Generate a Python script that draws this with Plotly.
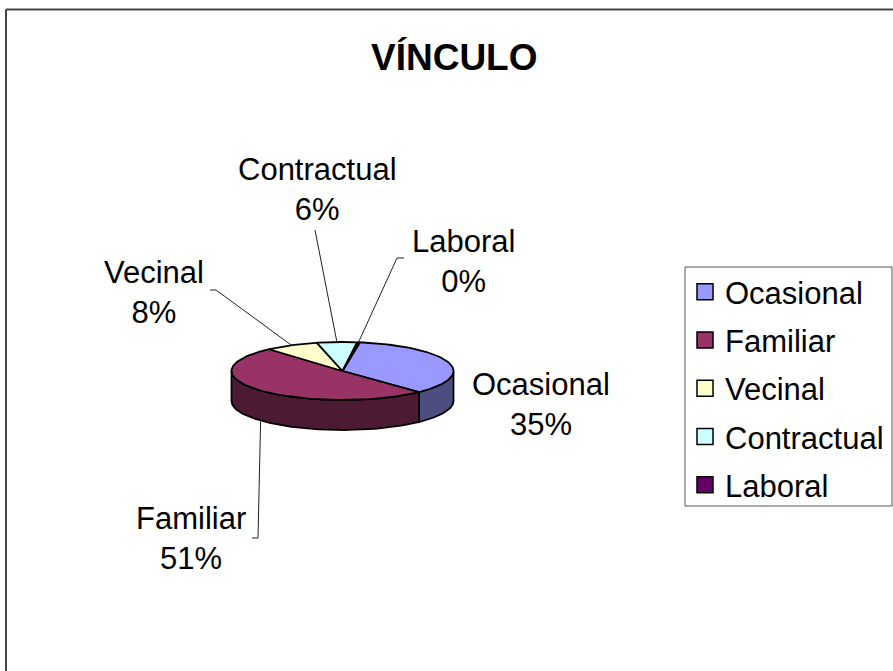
import numpy as np
import plotly.graph_objects as go

categories = ["Ocasional", "Familiar", "Vecinal", "Contractual", "Laboral"]
values = [35.4, 50.6, 7.8, 5.8, 0.4]
top_colors = ["#9999FF", "#993366", "#FFFFCC", "#CCFFFF", "#660066"]
wall_colors = ["#4D4D80", "#4D1A33", "#808066", "#668080", "#330033"]
label_centers = [(541, 404), (191, 538), (154, 292), (317, 189), (463, 261)]
leader_elbows = [None, [(252, 538), (258, 538)], [(210, 290), (216, 290)], [(315, 230)], [(404, 258), (397, 258)]]

W, H = 893, 671
CX, CY, RX, RY, DEPTH = 342.5, 371, 111, 29, 30
START = 9.0
FONT = "Liberation Sans, Arial, sans-serif"


def px(deg):
    return CX + RX * np.sin(np.radians(deg))


def py(deg):
    return CY - RY * np.cos(np.radians(deg))


total = sum(values)
edges = START + np.cumsum([0] + values) / total * 360
fig = go.Figure()

# side walls (only the front half of the rim, 90..270 degrees clockwise from the top)
for i in range(len(values)):
    a, b = max(edges[i], 90), min(edges[i + 1], 270)
    if b <= a:
        continue
    t = np.linspace(a, b, 80)
    xs = np.concatenate([px(t), px(t[::-1])])
    ys = np.concatenate([py(t), py(t[::-1]) + DEPTH])
    fig.add_trace(go.Scatter(x=np.append(xs, xs[0]), y=np.append(ys, ys[0]), mode="lines", fill="toself",
                             fillcolor=wall_colors[i], line=dict(color="black", width=1.8),
                             showlegend=False, hoverinfo="skip"))

# top faces
for i in range(len(values)):
    t = np.linspace(edges[i], edges[i + 1], 80)
    xs = np.concatenate([[CX], px(t), [CX]])
    ys = np.concatenate([[CY], py(t), [CY]])
    fig.add_trace(go.Scatter(x=xs, y=ys, mode="lines", fill="toself", fillcolor=top_colors[i],
                             line=dict(color="black", width=1.8), showlegend=False,
                             hovertemplate=f"{categories[i]}<extra></extra>"))

# leader lines, anchored on the rim at each slice's mid angle
for i, elbow in enumerate(leader_elbows):
    if elbow is None:
        continue
    mid = (edges[i] + edges[i + 1]) / 2
    wall = DEPTH if 90 < (mid % 360) < 270 else 0
    pts = elbow + [(float(px(mid)), float(py(mid)) + wall)]
    fig.add_trace(go.Scatter(x=[p[0] for p in pts], y=[p[1] for p in pts], mode="lines",
                             line=dict(color="#222222", width=1), showlegend=False, hoverinfo="skip"))

# legend entries
for i, name in enumerate(categories):
    fig.add_trace(go.Scatter(x=[None], y=[None], mode="markers", name=name, legendgroup=name,
                             marker=dict(symbol="square", size=16, color=top_colors[i],
                                         line=dict(color="black", width=1.5))))

annotations = [dict(x=454, y=57, text="<b>VÍNCULO</b>", showarrow=False, xref="x", yref="y",
                    font=dict(family=FONT, size=37, color="black"))]
for i, name in enumerate(categories):
    pct = round(values[i] / total * 100)
    annotations.append(dict(x=label_centers[i][0], y=label_centers[i][1], text=f"{name}<br>{pct}%",
                            showarrow=False, xref="x", yref="y", align="center",
                            font=dict(family=FONT, size=31, color="black")))

fig.update_layout(
    width=W, height=H, margin=dict(l=0, r=0, t=0, b=0), autosize=False,
    paper_bgcolor="white", plot_bgcolor="white", annotations=annotations,
    xaxis=dict(range=[0, W], visible=False, fixedrange=True),
    yaxis=dict(range=[H, 0], visible=False, fixedrange=True),
    legend=dict(x=685 / W, y=1 - 265 / H, xanchor="left", yanchor="top",
                bgcolor="rgba(0,0,0,0)", borderwidth=0,
                font=dict(family=FONT, size=31, color="black"),
                tracegroupgap=5, itemwidth=30, itemclick=False, itemdoubleclick=False),
    shapes=[
        dict(type="line", xref="x", yref="y", x0=6, y0=9.5, x1=W, y1=9.5, line=dict(color="#444444", width=2)),
        dict(type="line", xref="x", yref="y", x0=6, y0=9.5, x1=6, y1=H, line=dict(color="#444444", width=2)),
        dict(type="rect", xref="x", yref="y", x0=685, y0=267, x1=892, y1=506, line=dict(color="#555555", width=1)),
    ],
)
fig.write_html("out.html", config=dict(displayModeBar=False),
               post_script="document.body.style.margin='0';document.documentElement.style.overflow='hidden';")
